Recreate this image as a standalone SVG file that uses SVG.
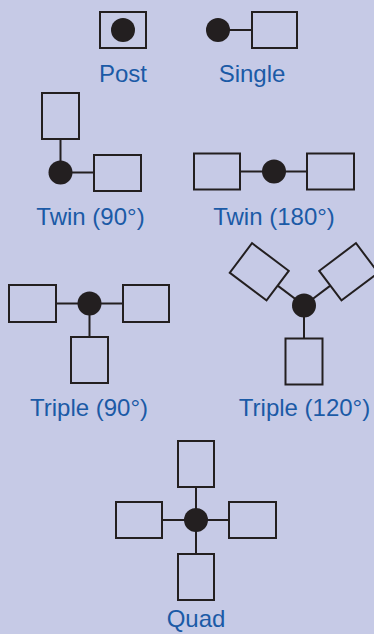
<svg xmlns="http://www.w3.org/2000/svg" width="374" height="634" viewBox="0 0 374 634">
<style>
.bx{fill:none;stroke:#231f20;stroke-width:2}
.ln{stroke:#231f20;stroke-width:2;fill:none}
.dot{fill:#231f20}
.lbl{font-family:"Liberation Sans",Arial,sans-serif;font-size:24px;fill:#1b5aa6;text-anchor:middle}
</style>
<rect width="374" height="634" fill="#c6cae6"/>
<g id="connectors">
<line class="ln" x1="218" y1="30" x2="252" y2="30"/>
<line class="ln" x1="60.5" y1="139" x2="60.5" y2="172.5"/>
<line class="ln" x1="60.5" y1="172.5" x2="94" y2="172.5"/>
<line class="ln" x1="240" y1="171.5" x2="307" y2="171.5"/>
<line class="ln" x1="56" y1="303.5" x2="123" y2="303.5"/>
<line class="ln" x1="89.5" y1="303.5" x2="89.5" y2="337"/>
<line class="ln" x1="304" y1="305.5" x2="304" y2="338.5"/>
<line class="ln" x1="304" y1="305.5" x2="304" y2="338.5" transform="rotate(127 304 305.5)"/>
<line class="ln" x1="304" y1="305.5" x2="304" y2="338.5" transform="rotate(-127 304 305.5)"/>
<line class="ln" x1="196" y1="487" x2="196" y2="554"/>
<line class="ln" x1="162" y1="520" x2="229" y2="520"/>
</g>
<g id="post">
<rect class="bx" x="100" y="12" width="46" height="36"/>
<circle class="dot" cx="123" cy="30" r="12"/>
<text class="lbl" x="123" y="82">Post</text>
</g>
<g id="single">
<circle class="dot" cx="218" cy="30" r="12"/>
<rect class="bx" x="252" y="12" width="45" height="36"/>
<text class="lbl" x="252" y="82">Single</text>
</g>
<g id="twin90">
<rect class="bx" x="42" y="93" width="37" height="46"/>
<circle class="dot" cx="60.5" cy="172.5" r="12"/>
<rect class="bx" x="94" y="155" width="47" height="36"/>
<text class="lbl" x="90.5" y="225">Twin (90°)</text>
</g>
<g id="twin180">
<rect class="bx" x="194" y="153.5" width="46" height="36"/>
<circle class="dot" cx="274" cy="171.5" r="12"/>
<rect class="bx" x="307" y="153.5" width="47" height="36"/>
<text class="lbl" x="274" y="225">Twin (180°)</text>
</g>
<g id="triple90">
<rect class="bx" x="9" y="285" width="47" height="37"/>
<circle class="dot" cx="89.5" cy="303.5" r="12"/>
<rect class="bx" x="123" y="285" width="46" height="37"/>
<rect class="bx" x="71" y="337" width="37" height="46"/>
<text class="lbl" x="89" y="416">Triple (90°)</text>
</g>
<g id="triple120">
<rect class="bx" x="285.5" y="338.5" width="37" height="46"/>
<rect class="bx" x="285.5" y="338.5" width="37" height="46" transform="rotate(127 304 305.5)"/>
<rect class="bx" x="285.5" y="338.5" width="37" height="46" transform="rotate(-127 304 305.5)"/>
<circle class="dot" cx="304" cy="305.5" r="12"/>
<text class="lbl" x="304.5" y="416">Triple (120°)</text>
</g>
<g id="quad">
<rect class="bx" x="178" y="441" width="36" height="46"/>
<rect class="bx" x="116" y="502" width="46" height="36"/>
<rect class="bx" x="229" y="502" width="47" height="36"/>
<rect class="bx" x="178" y="554" width="36" height="46"/>
<circle class="dot" cx="196" cy="520" r="12"/>
<text class="lbl" x="196" y="627">Quad</text>
</g>
</svg>
